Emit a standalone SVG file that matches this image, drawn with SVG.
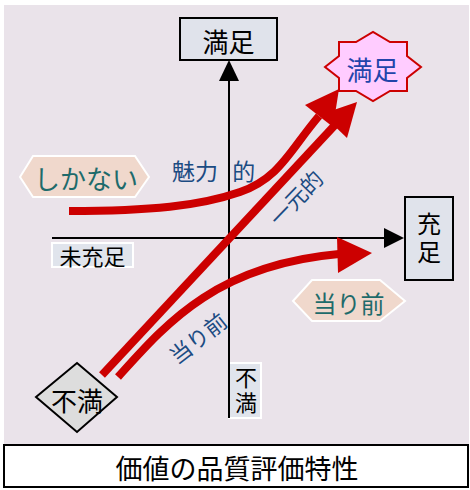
<svg xmlns="http://www.w3.org/2000/svg" width="470" height="490" viewBox="0 0 470 490">
<style>
text{font-family:"Noto Sans CJK JP","Noto Sans CJK SC",sans-serif;dominant-baseline:central;text-anchor:middle}
.vert{writing-mode:vertical-rl;text-orientation:upright}
.axis{stroke:#000;stroke-width:2;fill:none}
.red{stroke:#CC0000;stroke-width:8;fill:none}
.head{fill:#CC0000}
.box{fill:#E0E3EB;stroke:#000;stroke-width:2}
.lbl{fill:#E0E4EC;stroke:#fff;stroke-width:2}
.hex{fill:#F0D8CC;stroke:#fff;stroke-width:2}
.blue{fill:#1B4B82}
.teal{fill:#1E6B6B}
</style>
<rect x="4" y="5" width="465" height="440" fill="#EAE3EA"/>
<g id="axes">
<line class="axis" x1="229" y1="418" x2="229" y2="78"/>
<polygon points="229,60 219,81 239,81" fill="#000"/>
<line class="axis" x1="52" y1="238" x2="386" y2="238"/>
<polygon points="404,238 384,228 384,248" fill="#000"/>
</g>
<g id="top-satisfied">
<rect class="box" x="180" y="18" width="97" height="42"/>
<text x="228.5" y="40" font-size="26" fill="#000">満足</text>
</g>
<g id="sufficient">
<rect class="box" x="405" y="197" width="48" height="83"/>
<text class="vert" x="429" y="240" font-size="24" letter-spacing="4" fill="#000">充足</text>
</g>
<g id="insufficient">
<rect class="lbl" x="52" y="243" width="81" height="24"/>
<text x="92.5" y="255" font-size="22" fill="#000">未充足</text>
</g>
<g id="dissatisfied-axis">
<rect class="lbl" x="229" y="363" width="32" height="55"/>
<line class="axis" x1="229" y1="362" x2="229" y2="418"/>
<text class="vert" x="246" y="391.5" font-size="22" letter-spacing="3" fill="#000">不満</text>
</g>
<g id="star-satisfied">
<polygon points="339,42 356,42 373,32 390,42 407,42 407,56 421,67 407,78 407,91 390,91 373,101 356,91 339,91 339,78 325,67 339,56" fill="#FFCCFF" stroke="#CC0000" stroke-width="2"/>
<text x="372.5" y="68.5" font-size="26" fill="#2244AA">満足</text>
</g>
<g id="shikanai">
<polygon class="hex" points="20,177 33,156 135,156 149,177 135,197 33,197"/>
<text x="86" y="177" font-size="26" class="teal">しかない</text>
</g>
<g id="atarimae-hex">
<polygon class="hex" points="293,301 312,280 380,280 405,301 380,321 312,321"/>
<text x="348.5" y="302" font-size="24" class="teal">当り前</text>
</g>
<g id="fuman-diamond">
<polygon points="77,363 117,397 77,432 36,397" fill="#DDDDDD" stroke="#000" stroke-width="2"/>
<text x="77" y="399" font-size="26" fill="#000">不満</text>
</g>
<g id="connectors">
<path class="red" d="M69,211 C150,211 200,206 240,192 S290,150 319,116"/>
<polygon class="head" points="339,89 305,105 333,127"/>
<path class="red" d="M102,375 L335,125"/>
<polygon class="head" points="357,102 322,114 347,138"/>
<path class="red" d="M118,377 C165,325 215,265 339,254"/>
<polygon class="head" points="372,253 337,237 338,273"/>
</g>
<g id="labels">
<text x="172" y="170" font-size="23" class="blue" style="text-anchor:start">魅力 <tspan dx="9">的</tspan></text>
<text x="0" y="0" font-size="22" class="blue" transform="translate(295,197) rotate(-46)">一元的</text>
<text x="0" y="0" font-size="22" class="blue" transform="translate(197,337) rotate(-38)">当り前</text>
</g>
<g id="title">
<rect x="4" y="445" width="464" height="42" fill="#fff" stroke="#000" stroke-width="2"/>
<text x="237" y="467" font-size="27" fill="#000">価値の品質評価特性</text>
</g>
</svg>
